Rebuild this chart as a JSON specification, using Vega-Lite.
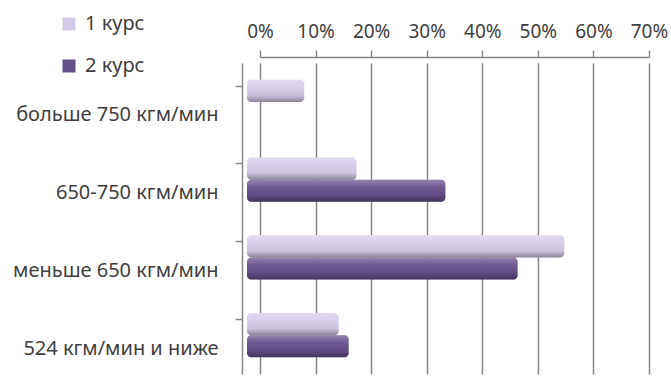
{
  "$schema": "https://vega.github.io/schema/vega-lite/v6.json",
  "autosize": {"type": "none"},
  "width": 389,
  "height": 311,
  "padding": {"left": 260, "top": 63, "right": 22, "bottom": 5},
  "background": "white",
  "config": {
    "view": {"stroke": null},
    "font": "Noto Sans",
    "axis": {"labelFont": "Noto Sans", "labelColor": "#404040"}
  },
  "data": {
    "values": [
      {"category": "больше 750 кгм/мин", "course": "1 курс", "share": 9.4},
      {"category": "больше 750 кгм/мин", "course": "2 курс", "share": 0},
      {"category": "650-750 кгм/мин", "course": "1 курс", "share": 18.8},
      {"category": "650-750 кгм/мин", "course": "2 курс", "share": 34.8},
      {"category": "меньше 650 кгм/мин", "course": "1 курс", "share": 56.2},
      {"category": "меньше 650 кгм/мин", "course": "2 курс", "share": 47.8},
      {"category": "524 кгм/мин и ниже", "course": "1 курс", "share": 15.6},
      {"category": "524 кгм/мин и ниже", "course": "2 курс", "share": 17.4}
    ]
  },
  "encoding": {
    "y": {
      "field": "category",
      "type": "nominal",
      "sort": null,
      "scale": {"paddingInner": 0.43, "paddingOuter": 0.215},
      "axis": {
        "title": null,
        "orient": "left",
        "offset": 18,
        "bandPosition": 0,
        "tickOffset": 6,
        "labelOffset": 7,
        "domainColor": "#868686",
        "domainWidth": 1.5,
        "tickColor": "#868686",
        "tickWidth": 1.5,
        "tickSize": 7,
        "labelPadding": 17,
        "labelFontSize": 20,
        "labelLimit": 300,
        "grid": false
      }
    },
    "yOffset": {"field": "course", "type": "nominal", "scale": {"domain": ["1 курс", "2 курс"]}},
    "x": {
      "field": "share",
      "type": "quantitative",
      "scale": {"domain": [0, 70], "nice": false},
      "axis": {
        "title": null,
        "orient": "top",
        "offset": 6,
        "values": [0, 10, 20, 30, 40, 50, 60, 70],
        "labelExpr": "datum.value + '%'",
        "labelFontSize": 19,
        "labelPadding": 9,
        "labelOverlap": false,
        "labelBound": false,
        "labelFlush": false,
        "tickSize": 7,
        "tickColor": "#868686",
        "tickWidth": 1.5,
        "domainColor": "#868686",
        "domainWidth": 1.5,
        "grid": true,
        "gridColor": "#868686",
        "gridWidth": 1.5
      }
    },
    "x2": {"datum": 0}
  },
  "layer": [
    {
      "transform": [{"filter": "datum.share > 0"}],
      "mark": {"type": "bar", "cornerRadius": 4, "xOffset": -8, "x2Offset": -13},
      "encoding": {
        "color": {
          "field": "course",
          "type": "nominal",
          "scale": {"domain": ["1 курс", "2 курс"], "range": ["#D6CCE8", "#66508A"]},
          "legend": {
            "title": null,
            "orient": "none",
            "legendX": -201,
            "legendY": -49,
            "symbolType": "square",
            "symbolSize": 169,
            "symbolStrokeWidth": 0,
            "labelFontSize": 20,
            "labelColor": "#404040",
            "labelFont": "Noto Sans",
            "rowPadding": 22,
            "labelOffset": 6
          }
        }
      }
    },
    {
      "transform": [{"filter": "datum.share > 0"}],
      "mark": {
        "type": "bar",
        "cornerRadius": 4,
        "xOffset": -8,
        "x2Offset": -13,
        "fill": {
          "x1": 0, "y1": 0, "x2": 0, "y2": 1,
          "gradient": "linear",
          "stops": [
            {"offset": 0, "color": "rgba(255,255,255,0.3)"},
            {"offset": 0.35, "color": "rgba(255,255,255,0.05)"},
            {"offset": 0.7, "color": "rgba(0,0,0,0.05)"},
            {"offset": 1, "color": "rgba(0,0,0,0.35)"}
          ]
        }
      }
    }
  ]
}
